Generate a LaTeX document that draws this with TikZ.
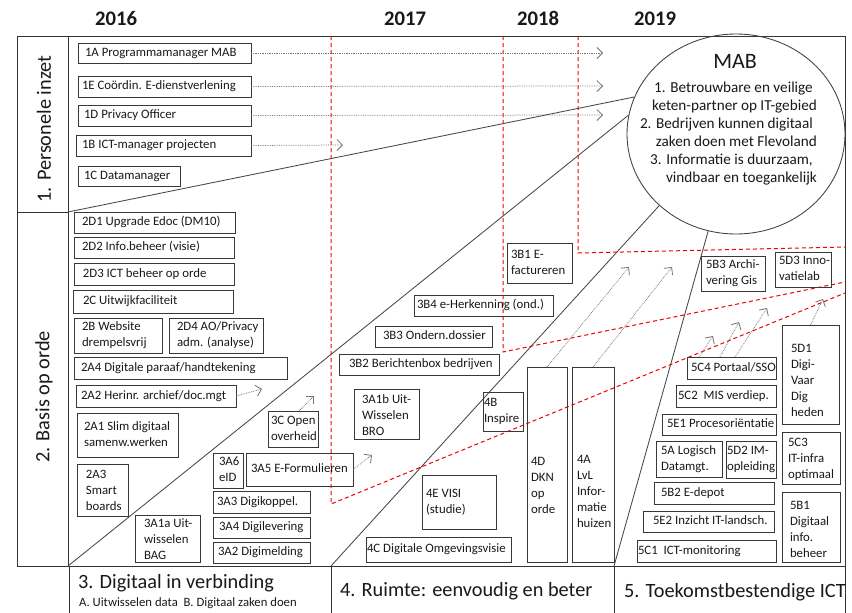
\documentclass[tikz,border=0pt]{standalone}
\usepackage{fontspec}
\setmainfont{Carlito}
\usetikzlibrary{arrows.meta,shapes.geometric,calc}
% #1 vertical shift (optional), #2 name, #3 x1, #4 y1, #5 x2, #6 y2, #7 left pad, #8 text
\newcommand\Bx[8][0]{%
  \node[bx] (#2) at (#3,#4) {\parbox[c][\dimexpr #6pt-#4pt\relax][c]{\dimexpr #5pt-#3pt\relax}{\vspace*{\dimexpr #1pt*2\relax}\hspace*{#7pt}\begin{tabular}{@{}l@{}}#8\end{tabular}}};}
\begin{document}
\begin{tikzpicture}[x=1pt,y=-1pt,
  bx/.style={draw=black!78, line width=0.9pt, inner sep=0pt, outer sep=0pt, anchor=north west, text=black!90, font=\fontsize{12.8}{16}\selectfont},
  frame/.style={draw=black!80, line width=0.9pt},
  diag/.style={draw=black!72, line width=0.85pt},
  reddash/.style={draw=red!95!black, line width=1pt, dash pattern=on 4pt off 3pt},
  arr/.style={draw=black!55, line width=0.75pt, densely dotted, -{Straight Barb[length=5.5pt,width=11pt,line width=0.8pt]}},
  year/.style={font=\bfseries\fontsize{20.7}{24}\selectfont, text=black!90, anchor=base, inner sep=0pt},
  sect/.style={font=\fontsize{20.3}{24}\selectfont, text=black!90, inner sep=0pt},
]
\fill[white] (0,0) rectangle (852,613);
\useasboundingbox (0,0) rectangle (852,613);

% years
\node[year] (y2016) at (116,25) {2016};
\node[year] (y2017) at (405,25) {2017};
\node[year] (y2018) at (538,25) {2018};
\node[year] (y2019) at (655,25) {2019};

% frame
\draw[frame] (17,36) -- (845,36);
\draw[frame] (17,36) rectangle (68,566);
\draw[frame] (17,212) -- (68,212);
\draw[frame] (17,566) -- (845,566);
\draw[frame] (845,36) -- (845,613);
\draw[frame] (69,566) -- (69,613);
\draw[frame] (331,566) -- (331,613);
\draw[frame] (614,566) -- (614,613);

% section labels
\node[sect, rotate=90] (s1) at (44,129) {1. Personele inzet};
\node[sect, rotate=90] (s2) at (44,397) {2. Basis op orde};
\node[sect, anchor=base west] (s3) at (78,588) {3. Digitaal in verbinding};
\node[font=\fontsize{12.7}{15}\selectfont, text=black!90, inner sep=0pt, anchor=base west] (s3sub) at (79,606) {A. Uitwisselen data\ \ B. Digitaal zaken doen};
\node[sect, anchor=base west] (s4) at (340,596) {4. Ruimte: eenvoudig en beter};
\node[sect, anchor=base west] (s5) at (624,597) {5. Toekomstbestendige ICT};

% MAB ellipse
\node[draw=black!75, line width=0.85pt, ellipse, minimum width=218pt, minimum height=200pt, inner sep=0pt] (mab) at (736,134) {};
\node[font=\fontsize{22}{26}\selectfont, text=black!90, anchor=base, inner sep=0pt] (mabt) at (735,68) {MAB};
\node[font=\fontsize{15.2}{18}\selectfont, text=black!90, anchor=base east, inner sep=0pt] (mabg) at (817,92.5)
  {\begin{tabular}[t]{@{}r@{}}1. Betrouwbare en veilige\hspace*{4pt}\\keten-partner op IT-gebied\\2. Bedrijven kunnen digitaal\hspace*{4pt}\\zaken doen met Flevoland\\3. Informatie is duurzaam,\hspace*{4pt}\\vindbaar en toegankelijk\end{tabular}};

% corner coordinates
\coordinate (c12) at (68,212);
\coordinate (c23) at (68,566);
\coordinate (c34) at (331,566);
\coordinate (c45) at (614,566);

% diagonal lines
\draw[diag] (c12) -- (mab.160.2);
\draw[diag] (c23) -- (mab.170);
\draw[diag] (c34) -- (mab.223.1);
\draw[diag] (c45) -- (mab.254.2);

% red dashed year borders
\draw[reddash] (331,36) -- (331,504) -- (845,293);
\draw[reddash] (503,36) -- (503,352) -- (845,282);
\draw[reddash] (578,36) -- (578,253) -- (845,247);

% section 1
\Bx{b1A}{78}{43}{251}{63}{7}{1A Programmamanager MAB}
\Bx{b1E}{78}{76}{251}{97}{4}{1E Coördin. E-dienstverlening}
\Bx{b1D}{78}{105}{251}{126}{6}{1D Privacy Officer}
\Bx{b1B}{76}{135}{251}{156}{6}{1B ICT-manager projecten}
\Bx{b1C}{78}{166}{180}{186}{6}{1C Datamanager}

% section 2
\Bx{b2D1}{74}{212}{235}{233}{8}{2D1 Upgrade Edoc (DM10)}
\Bx{b2D2}{74}{237}{234}{258}{8}{2D2 Info.beheer (visie)}
\Bx{b2D3}{74}{263}{234}{285}{9}{2D3 ICT beheer op orde}
\Bx{b2C}{73}{290}{233}{313}{10}{2C Uitwijkfaciliteit}
\Bx{b2B}{74}{318}{162}{353}{8}{2B Website\\drempelsvrij}
\Bx{b2D4}{169}{318}{263}{353}{8}{2D4 AO/Privacy\\adm. (analyse)}
\Bx{b2A4}{74}{357}{287}{379}{7}{2A4 Digitale paraaf/handtekening}
\Bx{b2A2}{76}{385}{236}{407}{5}{2A2 Herinr. archief/doc.mgt}
\Bx{b2A1}{77}{413}{178}{457}{7}{2A1 Slim digitaal\\samenw.werken}
\Bx[1.5]{b2A3}{77}{464}{128}{516}{9}{2A3\\Smart\\boards}

% section 3
\Bx[1.5]{b3A1a}{135}{515}{200}{562}{9}{3A1a Uit-\\wisselen\\BAG}
\Bx{b3A6}{213}{453}{243}{488}{6}{3A6\\eID}
\Bx{b3A5}{246}{453}{353}{486}{5}{3A5 E-Formulieren}
\Bx{b3A3}{213}{491}{310}{513}{4}{3A3 Digikoppel.}
\Bx{b3A4}{213}{517}{310}{538}{6}{3A4 Digilevering}
\Bx{b3A2}{213}{542}{310}{563}{5}{3A2 Digimelding}
\Bx{b3C}{268}{411}{318}{447}{3}{3C Open\\overheid}
\Bx[2]{b3A1b}{354}{389}{419}{439}{8}{3A1b Uit-\\Wisselen\\BRO}
\Bx{b3B2}{339}{354}{499}{375}{10}{3B2 Berichtenbox bedrijven}
\Bx{b3B3}{375}{326}{492}{347}{8}{3B3 Ondern.dossier}
\Bx{b3B4}{414}{295}{553}{316}{3}{3B4 e-Herkenning (ond.)}
\Bx{b3B1}{507}{243}{572}{283}{4}{3B1 E-\\factureren}

% section 4
\Bx{b4B}{483}{392}{523}{431}{1}{4B\\Inspire}
\Bx{b4E}{422}{475}{496}{529}{4}{4E VISI\\(studie)}
\Bx{b4C}{366}{537}{511}{562}{1}{4C Digitale Omgevingsvisie}
\Bx[22]{b4D}{527}{367}{567}{562}{4}{4D\\DKN\\op\\orde}
\Bx[28]{b4A}{572}{367}{614}{562}{5}{4A\\LvL\\Infor-\\matie\\huizen}

% section 5
\Bx{b5B3}{701}{256}{765}{291}{5}{5B3 Archi-\\vering Gis}
\Bx{b5D3}{775}{252}{831}{287}{4}{5D3 Inno-\\vatielab}
\Bx[6.5]{b5D1}{782}{325}{839}{424}{9}{5D1\\Digi-\\Vaar\\Dig\\heden}
\Bx{b5C4}{687}{357}{776}{379}{4}{5C4 Portaal/SSO}
\Bx{b5C2}{676}{385}{776}{407}{2}{5C2\ \ MIS verdiep.}
\Bx{b5E1}{662}{414}{776}{435}{5}{5E1 Procesoriëntatie}
\Bx{b5A}{656}{441}{722}{477}{5}{5A Logisch\\Datamgt.}
\Bx{b5D2}{726}{441}{776}{478}{1}{5D2 IM-\\opleiding}
\Bx{b5B2}{654}{482}{774}{504}{7}{5B2 E-depot}
\Bx{b5E2}{643}{511}{774}{532}{10}{5E2 Inzicht IT-landsch.}
\Bx{b5C1}{637}{540}{776}{562}{1}{5C1\ \ ICT-monitoring}
\Bx[1]{b5C3}{782}{432}{840}{484}{6}{5C3\\IT-infra\\optimaal}
\Bx[3]{b5B1}{782}{492}{840}{562}{8}{5B1\\Digitaal\\info.\\beheer}

% arrow end points
\coordinate (e1A) at (603,53);
\coordinate (e1E) at (603,86);
\coordinate (e1D) at (603,115);
\coordinate (e1B) at (343,145);
\coordinate (e2A2) at (262,389);
\coordinate (e3C) at (314,396);
\coordinate (e3A5) at (372,455);
\coordinate (e4D) at (629,267);
\coordinate (e4A) at (672,267);
\coordinate (e5C4a) at (713,336);
\coordinate (e5C4b) at (739,322);
\coordinate (e5C4c) at (767,308);
\coordinate (e5D1) at (823,299);

% arrows
\draw[arr] (b1A.east) -- (e1A);
\draw[arr] (b1E.east) -- (e1E);
\draw[arr] (b1D.east) -- (e1D);
\draw[arr] (b1B.east) -- (e1B);
\draw[arr] (b2A2.east) -- (e2A2);
\draw[arr] ($(b3C.north west)+(31,0)$) -- (e3C);
\draw[arr] (b3A5.east) -- (e3A5);
\draw[arr] (b4D.north) -- (e4D);
\draw[arr] (b4A.north) -- (e4A);
\draw[arr] ($(b5C4.north west)+(12,0)$) -- (e5C4a);
\draw[arr] ($(b5C4.north west)+(33,0)$) -- (e5C4b);
\draw[arr] ($(b5C4.north west)+(48,0)$) -- (e5C4c);
\draw[arr] (b5D1.north) -- (e5D1);
\end{tikzpicture}
\end{document}
